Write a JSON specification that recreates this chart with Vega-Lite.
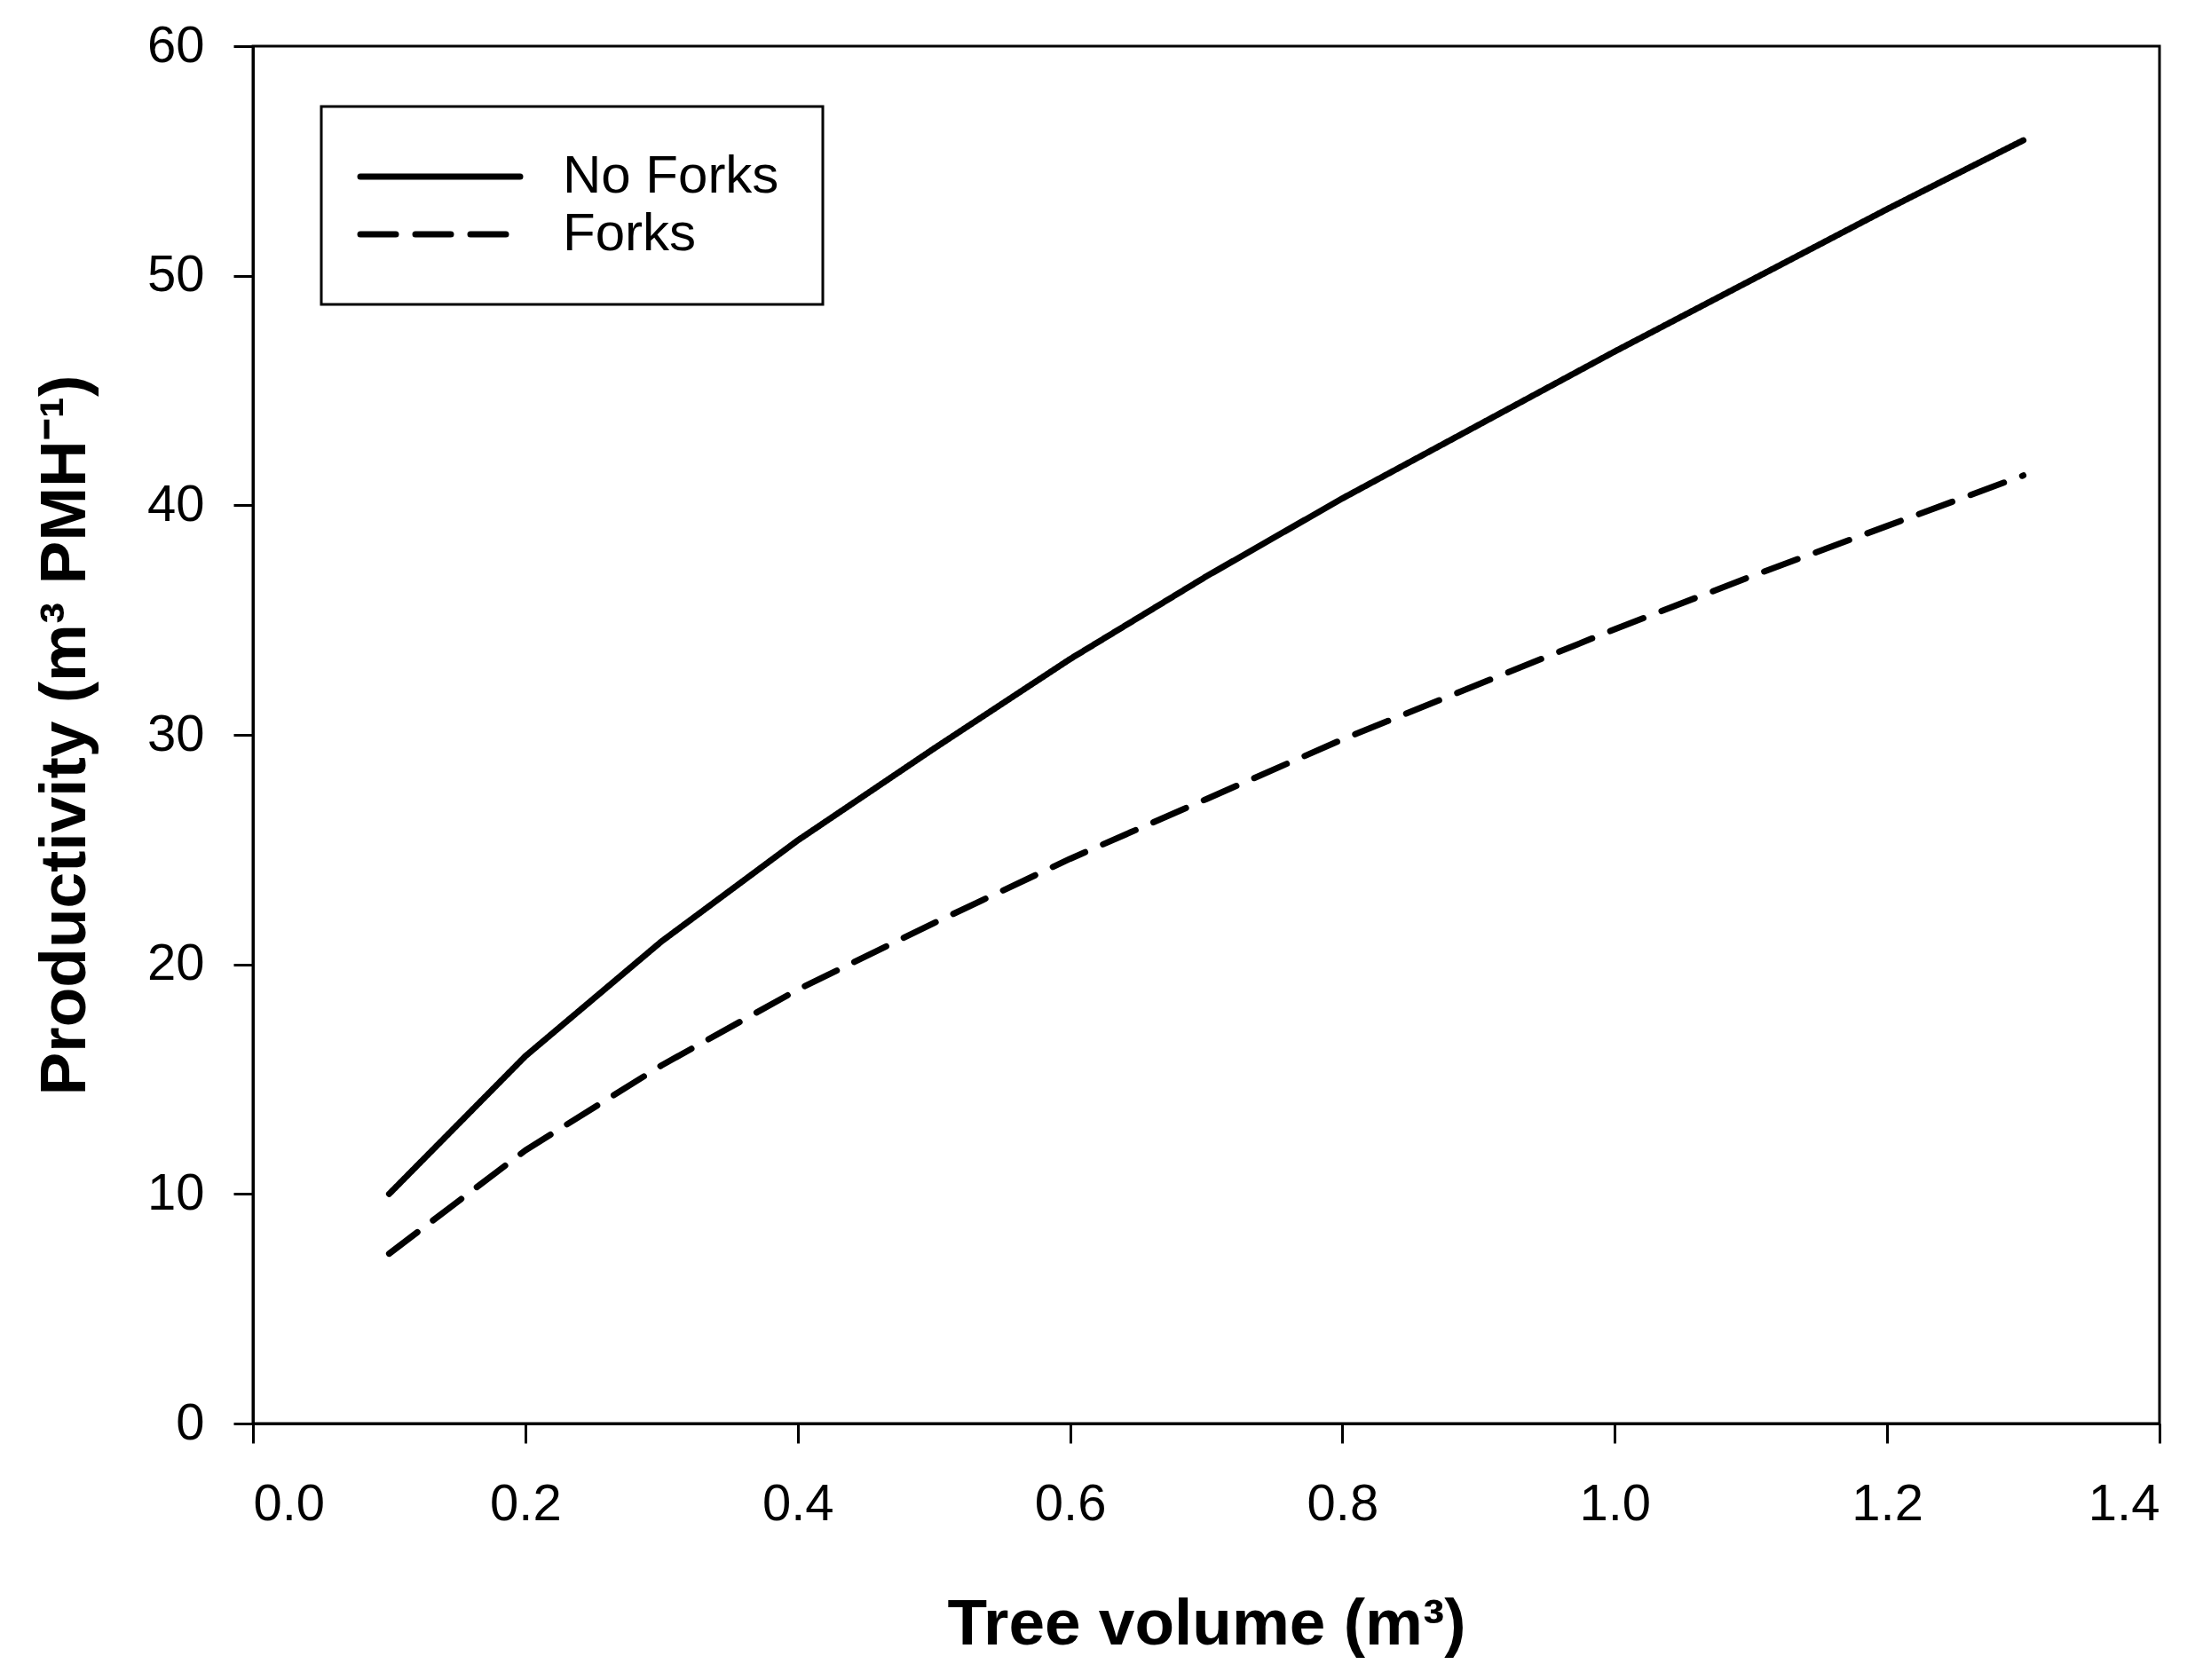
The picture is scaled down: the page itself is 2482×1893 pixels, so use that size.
{
  "$schema": "https://vega.github.io/schema/vega-lite/v6.json",
  "autosize": "none",
  "width": 2148,
  "height": 1552,
  "padding": {"left": 285, "top": 52, "right": 49, "bottom": 289},
  "background": "white",
  "config": {
    "view": {"stroke": "black", "strokeWidth": 3},
    "font": "Liberation Sans",
    "axis": {
      "domainColor": "black", "domainWidth": 3,
      "tickColor": "black", "tickWidth": 3, "tickSize": 22,
      "labelFont": "Liberation Sans", "labelFontSize": 58, "labelColor": "black",
      "titleFont": "Liberation Sans", "titleFontSize": 73, "titleFontWeight": "bold", "titleColor": "black",
      "grid": false
    }
  },
  "data": {
    "values": [
      {"volume": 0.1, "productivity": 10.0, "series": "No Forks"},
      {"volume": 0.2, "productivity": 16.0, "series": "No Forks"},
      {"volume": 0.3, "productivity": 21.0, "series": "No Forks"},
      {"volume": 0.4, "productivity": 25.4, "series": "No Forks"},
      {"volume": 0.5, "productivity": 29.4, "series": "No Forks"},
      {"volume": 0.6, "productivity": 33.3, "series": "No Forks"},
      {"volume": 0.7, "productivity": 36.9, "series": "No Forks"},
      {"volume": 0.8, "productivity": 40.3, "series": "No Forks"},
      {"volume": 0.9, "productivity": 43.5, "series": "No Forks"},
      {"volume": 1.0, "productivity": 46.7, "series": "No Forks"},
      {"volume": 1.1, "productivity": 49.8, "series": "No Forks"},
      {"volume": 1.2, "productivity": 52.9, "series": "No Forks"},
      {"volume": 1.3, "productivity": 55.9, "series": "No Forks"},
      {"volume": 0.1, "productivity": 7.4, "series": "Forks"},
      {"volume": 0.2, "productivity": 11.9, "series": "Forks"},
      {"volume": 0.3, "productivity": 15.6, "series": "Forks"},
      {"volume": 0.4, "productivity": 18.9, "series": "Forks"},
      {"volume": 0.5, "productivity": 21.8, "series": "Forks"},
      {"volume": 0.6, "productivity": 24.6, "series": "Forks"},
      {"volume": 0.7, "productivity": 27.2, "series": "Forks"},
      {"volume": 0.8, "productivity": 29.8, "series": "Forks"},
      {"volume": 0.9, "productivity": 32.2, "series": "Forks"},
      {"volume": 1.0, "productivity": 34.6, "series": "Forks"},
      {"volume": 1.1, "productivity": 36.9, "series": "Forks"},
      {"volume": 1.2, "productivity": 39.1, "series": "Forks"},
      {"volume": 1.3, "productivity": 41.3, "series": "Forks"}
    ]
  },
  "mark": {"type": "line", "color": "black", "strokeWidth": 7, "strokeCap": "round", "strokeJoin": "round"},
  "encoding": {
    "x": {
      "field": "volume", "type": "quantitative",
      "scale": {"domain": [0, 1.4], "nice": false},
      "axis": {
        "title": "Tree volume (m³)",
        "values": [0, 0.2, 0.4, 0.6, 0.8, 1.0, 1.2, 1.4],
        "format": ".1f",
        "labelPadding": 40,
        "titlePadding": 70
      }
    },
    "y": {
      "field": "productivity", "type": "quantitative",
      "scale": {"domain": [0, 60], "nice": false},
      "axis": {
        "title": "Productivity (m³ PMH⁻¹)",
        "values": [0, 10, 20, 30, 40, 50, 60],
        "labelPadding": 33,
        "titlePadding": 55
      }
    },
    "strokeDash": {
      "field": "series", "type": "nominal",
      "scale": {"domain": ["No Forks", "Forks"], "range": [[1, 0], [40, 22]]},
      "legend": {
        "title": null,
        "orient": "none",
        "legendX": 77,
        "legendY": 68,
        "padding": 49,
        "strokeColor": "black",
        "fillColor": "white",
        "symbolType": "M-5,0H5",
        "symbolSize": 1296,
        "symbolStrokeWidth": 7,
        "symbolStrokeColor": "black",
        "symbolOffset": 55,
        "labelOffset": 108,
        "labelExpr": "datum.label + '  '",
        "labelFont": "Liberation Sans",
        "labelFontSize": 60,
        "labelColor": "black",
        "labelLimit": 0,
        "rowPadding": 5,
        "encode": {
          "legend": {"update": {"strokeWidth": {"value": 3}}},
          "symbols": {"update": {"strokeCap": {"value": "round"}}}
        }
      }
    }
  }
}
